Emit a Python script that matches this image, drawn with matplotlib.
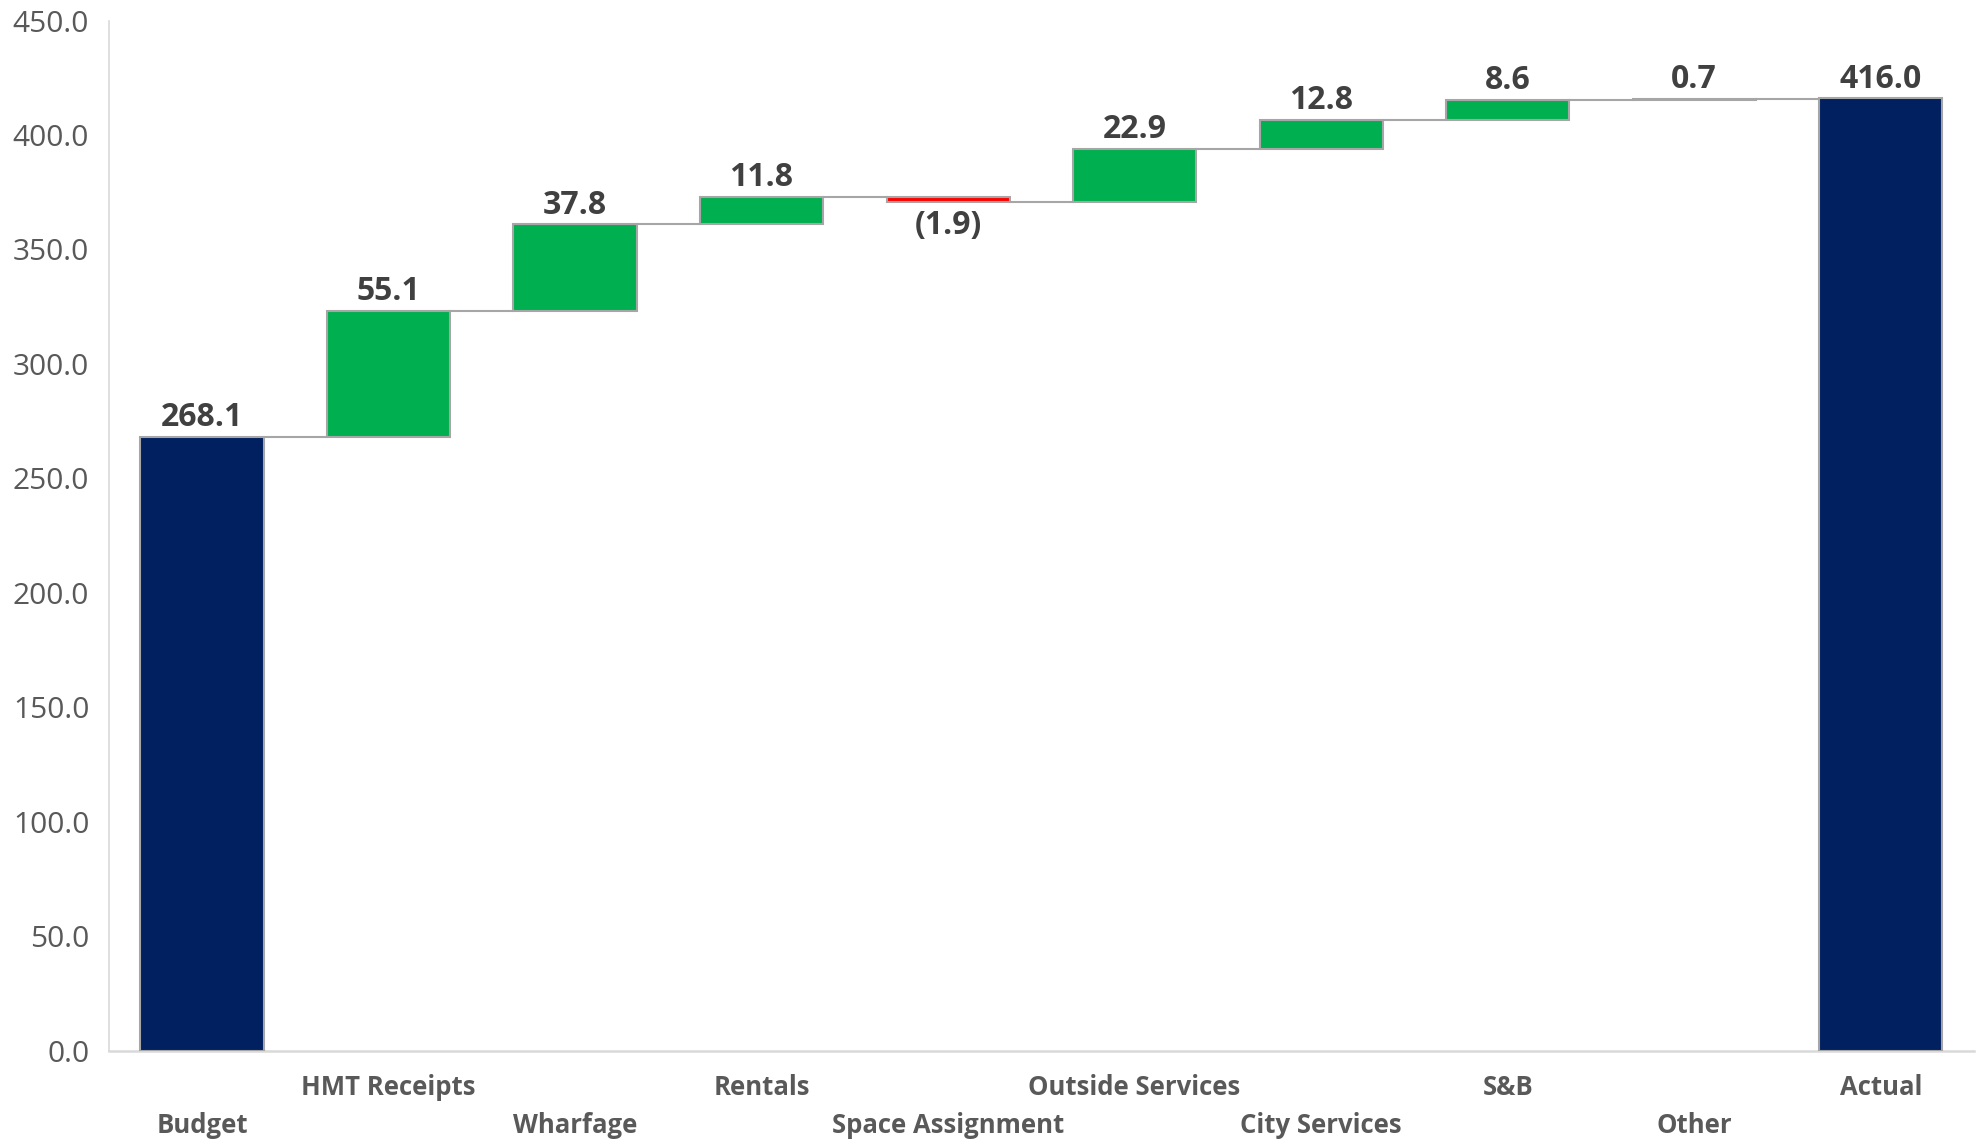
import matplotlib.pyplot as plt
import numpy as np

# Data
categories = ['Budget', 'HMT Receipts', 'Wharfage', 'Rentals', 'Space Assignment',
              'Outside Services', 'City Services', 'S&B', 'Other', 'Actual']
values = [268.1, 55.1, 37.8, 11.8, -1.9, 22.9, 12.8, 8.6, 0.7, 416.0]
is_total = [True, False, False, False, False, False, False, False, False, True]

navy = '#002060'
green = '#00B050'
red = '#FF0000'
edge = '#A6A6A6'

plt.rcParams['font.family'] = ['Open Sans', 'DejaVu Sans']

fig = plt.figure(figsize=(19.76, 11.42), dpi=100)
ax = fig.add_axes([0.055, 0.080, 0.944, 0.902])

x = np.arange(len(categories))
width = 0.66

# bottoms / heights for the waterfall
bottoms = []
heights = []
colors = []
running = 0.0
for v, tot in zip(values, is_total):
    if tot:
        bottoms.append(0)
        heights.append(v)
        colors.append(navy)
        running = v
    else:
        if v >= 0:
            bottoms.append(running)
            heights.append(v)
            colors.append(green)
        else:
            bottoms.append(running + v)
            heights.append(-v)
            colors.append(red)
        running += v

ax.bar(x, heights, width, bottom=bottoms, color=colors, edgecolor=edge, linewidth=1.5, zorder=3)

# connector lines
levels = []
running = 0.0
for v, tot in zip(values, is_total):
    running = v if tot else running + v
    levels.append(running)
for i in range(len(x) - 1):
    ax.plot([x[i] + width / 2, x[i + 1] - width / 2], [levels[i], levels[i]],
            color=edge, lw=1.5, zorder=2)

# value labels
for i, v in enumerate(values):
    if v >= 0:
        txt = f'{v:.1f}'
        ax.annotate(txt, (x[i], bottoms[i] + heights[i]), xytext=(0, 2),
                    textcoords='offset points', ha='center', va='bottom',
                    fontsize=23, fontweight='bold', color='#404040')
    else:
        txt = f'({abs(v):.1f})'
        ax.annotate(txt, (x[i], bottoms[i]), xytext=(0, -5),
                    textcoords='offset points', ha='center', va='top',
                    fontsize=23, fontweight='bold', color='#404040')

# category labels, staggered
ax.set_xticks(x)
ax.set_xticklabels([])
ax.tick_params(axis='x', length=0)
for i, c in enumerate(categories):
    yy = -0.036 if i % 2 == 1 else -0.073
    ax.text(x[i], yy, c, transform=ax.get_xaxis_transform(), ha='center', va='center',
            fontsize=18.5, fontweight='bold', color='#595959')

ax.set_xlim(-0.5, 9.5)
ax.set_ylim(0, 450)
ax.set_yticks(np.arange(0, 451, 50))
ax.set_yticklabels([f'{t:.1f}' for t in np.arange(0, 451, 50)])
ax.tick_params(axis='y', length=0, labelsize=21.5, labelcolor='#595959', pad=14)

for s in ['top', 'right']:
    ax.spines[s].set_visible(False)
ax.spines['left'].set_color('#D9D9D9')
ax.spines['bottom'].set_color('#D9D9D9')
ax.spines['left'].set_linewidth(1.2)
ax.spines['bottom'].set_linewidth(1.8)

fig.savefig('out.png', dpi=100)
